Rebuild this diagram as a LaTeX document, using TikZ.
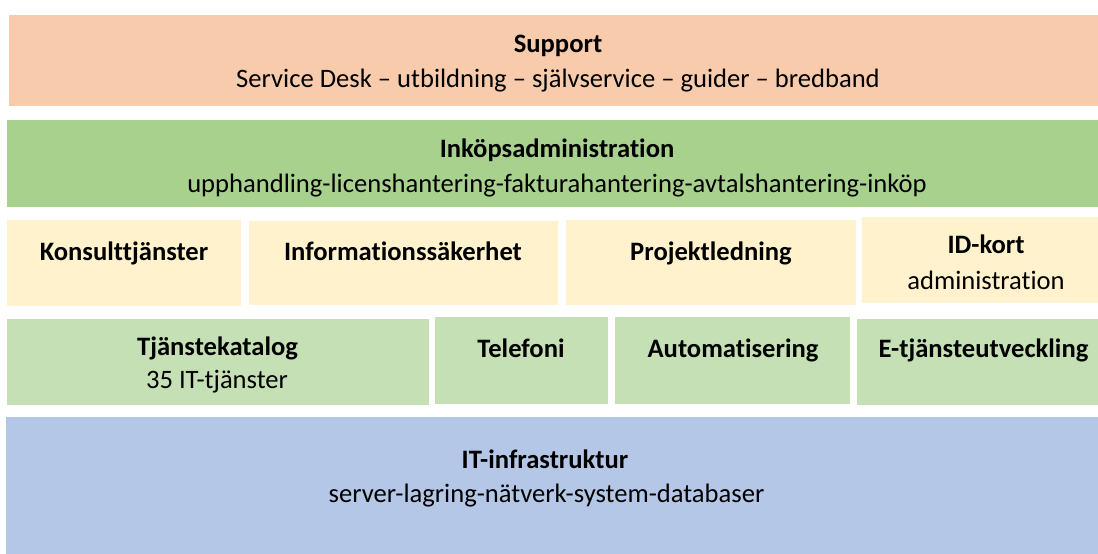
\documentclass[tikz,border=0pt]{standalone}
\usepackage{fontspec}
\setmainfont{Carlito}[Ligatures={NoCommon}]
\definecolor{peach}{HTML}{F8CBAD}
\definecolor{midgreen}{HTML}{A9D18E}
\definecolor{lightyellow}{HTML}{FFF2CC}
\definecolor{lightgreen}{HTML}{C5E0B4}
\definecolor{lightblue}{HTML}{B4C7E7}
\tikzset{
  box/.style={rectangle, inner sep=0pt, outer sep=0pt, draw=none},
  txt/.style={inner sep=0pt, anchor=base, font=\fontsize{26.6}{32}\selectfont, text=black},
  ttl/.style={txt, font=\fontsize{26.6}{32}\selectfont\bfseries},
}
\newcommand{\mybox}[6]{% name, color, x1, y1, x2, y2
  \node[box, fill=#2, minimum width={(#5-#3)*1pt}, minimum height={(#6-#4)*1pt}] (#1) at ({(#3+#5)/2},{(#4+#6)/2}) {};}
\begin{document}
\begin{tikzpicture}[x=1pt,y=-1pt]
\useasboundingbox[fill=white] (0,0) rectangle (1098,554);
\begin{scope}
\clip (0,0) rectangle (1098,554);
\mybox{sup}{peach}{9}{15}{1098}{106}
\mybox{ink}{midgreen}{7}{120}{1098}{207}
\mybox{kon}{lightyellow}{7}{220}{241}{306}
\mybox{inf}{lightyellow}{249}{221}{558}{305}
\mybox{pro}{lightyellow}{566}{220}{856}{305}
\mybox{idk}{lightyellow}{862}{217}{1110}{303}
\mybox{tja}{lightgreen}{7}{319}{429}{405}
\mybox{tel}{lightgreen}{435}{317}{608}{404}
\mybox{aut}{lightgreen}{615}{317}{850}{404}
\mybox{etj}{lightgreen}{857}{319}{1110}{405}
\mybox{itr}{lightblue}{6}{417}{1098}{560}
\end{scope}
\node[ttl] (supT) at (558,52) {Support};
\node[txt] (supS) at (558,87) {Service Desk – utbildning – självservice – guider – bredband};
\node[ttl] (inkT) at (557,157) {Inköpsadministration};
\node[txt] (inkS) at (557,192) {upphandling-licenshantering-fakturahantering-avtalshantering-inköp};
\node[ttl] (konT) at (124,260) {Konsulttjänster};
\node[ttl] (infT) at (403,260) {Informationssäkerhet};
\node[ttl] (proT) at (711,260) {Projektledning};
\node[ttl] (idkT) at (986,253) {ID-kort};
\node[txt] (idkS) at (986,289) {administration};
\node[ttl] (tjaT) at (217.5,355) {Tjänstekatalog};
\node[txt] (tjaS) at (217,388) {35 IT-tjänster};
\node[ttl] (telT) at (521,357) {Telefoni};
\node[ttl] (autT) at (733,357) {Automatisering};
\node[ttl] (etjT) at (983.5,357) {E-tjänsteutveckling};
\node[ttl] (itrT) at (545,468) {IT-infrastruktur};
\node[txt] (itrS) at (546.5,502) {server-lagring-nätverk-system-databaser};
\end{tikzpicture}
\end{document}
